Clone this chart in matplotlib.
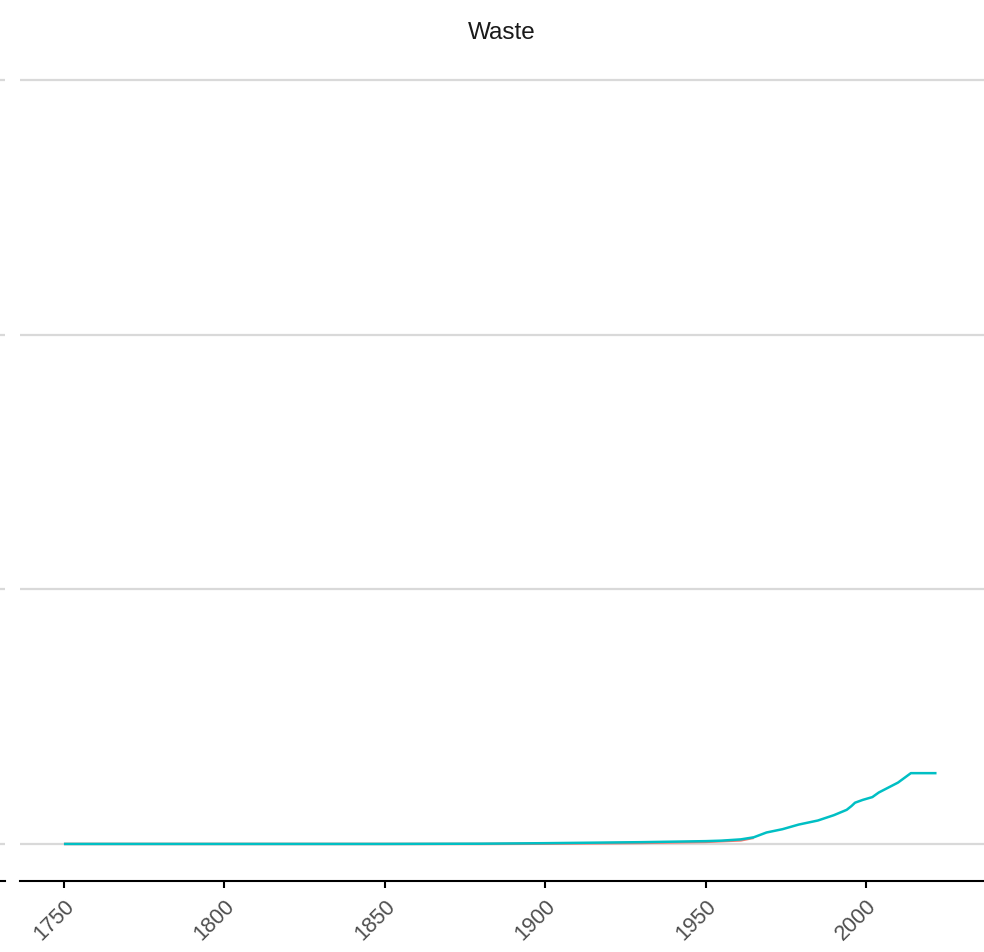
import matplotlib.pyplot as plt

plt.rcParams['font.family'] = ['Liberation Sans', 'DejaVu Sans']

# readings, y in gridline units
years_teal = [1750, 1850, 1880, 1900, 1930, 1950, 1955, 1961, 1965, 1969, 1974, 1979,
              1985, 1990, 1994, 1995.5, 1996.6, 1999, 2002, 2004, 2010, 2014, 2022]
teal = [0.0, 0.0, 0.001, 0.003, 0.007, 0.011, 0.013, 0.018, 0.026, 0.045, 0.058, 0.076,
        0.092, 0.113, 0.134, 0.149, 0.162, 0.173, 0.184, 0.202, 0.241, 0.278, 0.278]
years_red = [1750, 1850, 1880, 1900, 1930, 1950, 1961, 1965]
red = [0.0, 0.0, 0.0, 0.001, 0.004, 0.008, 0.014, 0.024]

xticks = [1750, 1800, 1850, 1900, 1950, 2000]
ygrid = [0, 1, 2, 3]

fig = plt.figure(figsize=(9.84, 9.53), dpi=100)
bottom = 71 / 953
top = 1 - 67 / 953
ax = fig.add_axes([20 / 984, bottom, 1 - 20 / 984, top - bottom])
# neighbouring facet panel, cut off at the left edge
ax0 = fig.add_axes([-0.5, bottom, 0.5 + 5 / 984, top - bottom], sharey=ax)

ylim = (-0.1455, 3.055)
for a in (ax, ax0):
    a.set_ylim(*ylim)
    a.set_yticks(ygrid)
    a.yaxis.grid(True, color='#d9d9d9', linewidth=1.6)
    a.xaxis.grid(False)
    a.set_axisbelow(True)
    for s in ['top', 'right', 'left']:
        a.spines[s].set_visible(False)
    a.spines['bottom'].set_color('black')
    a.spines['bottom'].set_linewidth(1.5)
    a.tick_params(axis='y', length=0, labelleft=False)

ax0.set_xticks([])

ax.plot(years_red, red, color='#F8766D', linewidth=1.8, solid_capstyle='butt')
ax.plot(years_teal, teal, color='#00BFC4', linewidth=1.8, solid_capstyle='butt')

ax.set_xlim(1736.3, 2036.8)
ax.set_xticks(xticks)
ax.set_xticklabels([str(t) for t in xticks], rotation=45, ha='right', va='top',
                   rotation_mode='anchor', fontsize=15.5, color='#4d4d4d')
ax.tick_params(axis='x', length=5, width=1.5, color='black', pad=5)

ax.set_title('Waste', fontsize=17.5, color='#1a1a1a', pad=20)

fig.savefig('out.png', dpi=100)
